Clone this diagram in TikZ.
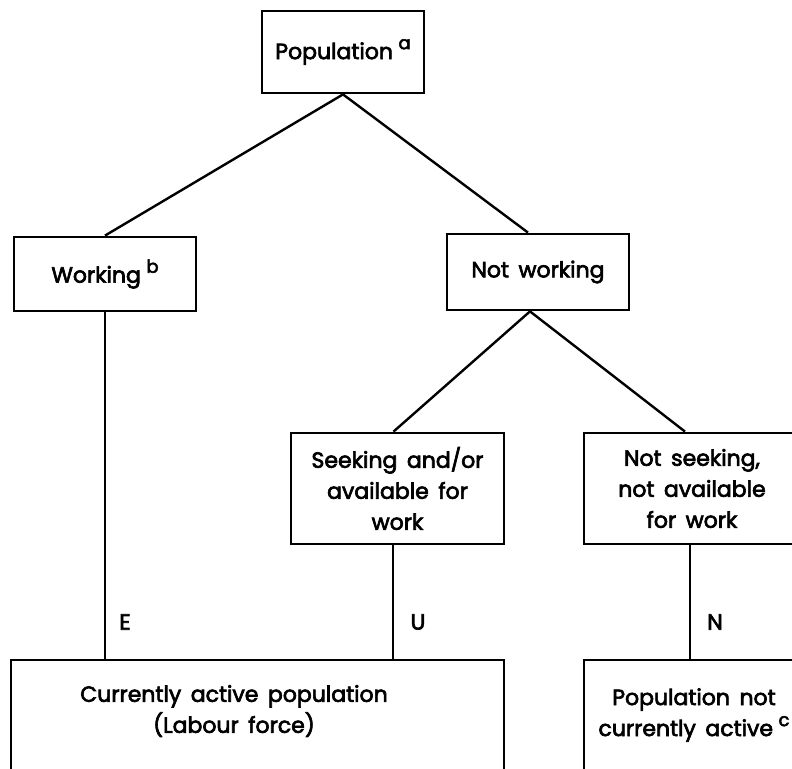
\documentclass[tikz,border=0pt]{standalone}
\usepackage{fontspec}
\setmainfont{Poppins}[FakeBold=3]
\usetikzlibrary{calc}
\newcommand{\fnmark}[1]{\hspace{0.25em}\raisebox{0.45em}{\fontsize{9}{9}\selectfont #1}}
\begin{document}
\begin{tikzpicture}[x=0.5pt,y=-0.5pt,
  box/.style={draw, line width=1.4pt, rectangle, inner sep=0pt, align=center,
              font=\fontsize{11}{15.5}\selectfont},
  txt/.style={inner sep=0pt, align=center, font=\fontsize{11}{15.5}\selectfont},
  link/.style={line width=1.2pt},
  tag/.style={inner sep=0pt, font=\fontsize{11}{13}\selectfont}]
\useasboundingbox (0,0) rectangle (792,769);
\clip (0,0) rectangle (792,769);

% classification boxes
\node[box, minimum width=81pt, minimum height=41pt] (pop) at (343,52)
  {Population\fnmark{a}};
\node[box, minimum width=91pt, minimum height=37pt] (work) at (105,274)
  {Working\fnmark{b}};
\node[box, minimum width=91pt, minimum height=38pt] (nw) at (538,272)
  {Not\, working};
\node[box, minimum width=106.5pt, minimum height=55.5pt] (seek) at (397.5,488.5)
  {Seeking\, and/or\\ available\, for\\ work};
\node[box, minimum width=108pt, minimum height=55.5pt] (nseek) at (692,488.5)
  {Not\, seeking,\\ not\, available\\ for\, work};

% totals at the foot, running past the page edge
\node[box, minimum width=246.5pt, minimum height=80pt] (lf) at (257.5,740) {};
\node[txt] (lftxt) at (234,711) {Currently\, active\, population\\ (Labour\, force)};
\node[box, minimum width=118pt, minimum height=80pt] (na) at (702,740) {};
\node[txt] (natxt) at (694,715) {Population\, not\\ currently\, active\fnmark{c}};

% branches
\draw[link] (pop.south) -- (work.north);
\draw[link] (pop.south) -- ($(nw.north)+(-10,0)$);
\draw[link] ($(nw.south)+(-8,0)$) -- ($(seek.north)+(-4,0)$);
\draw[link] ($(nw.south)+(-8,0)$) -- ($(nseek.north)+(-7,0)$);

% flows into the totals
\draw[link] (work.south) -- (work.south |- lf.north);
\draw[link] ($(seek.south)+(-4.5,0)$) coordinate (us) -- (us |- lf.north);
\draw[link] ($(nseek.south)+(-2,0)$) coordinate (ns) -- (ns |- na.north);
\node[tag] (e) at (125,622) {E};
\node[tag] (u) at (418,622) {U};
\node[tag] (n) at (715,622) {N};
\end{tikzpicture}
\end{document}
